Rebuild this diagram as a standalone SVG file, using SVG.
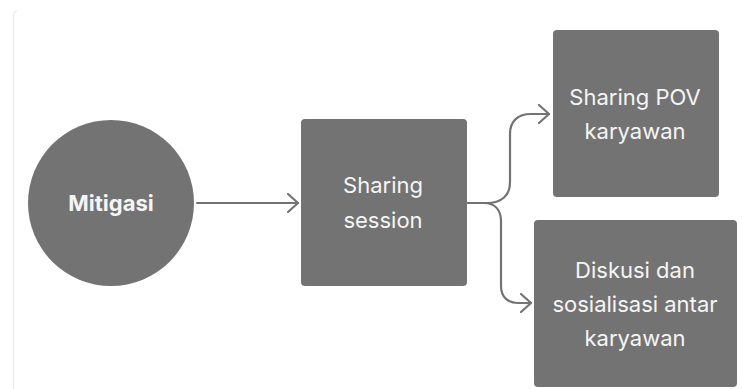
<svg xmlns="http://www.w3.org/2000/svg" width="742" height="389" viewBox="0 0 742 389">
  <defs>
    <style>
      .node { fill: #737373; }
      .label { font-family: Inter, "Noto Sans", "Liberation Sans", sans-serif; font-size: 22px; fill: #f5f5f5; text-anchor: middle; }
      .bold { font-weight: 700; }
      .wire { fill: none; stroke: #737373; stroke-width: 2.2; stroke-linecap: round; stroke-linejoin: round; }
      .frame { fill: none; stroke: #ededed; stroke-width: 1.5; }
    </style>
    <marker id="chev" viewBox="0 0 12 20" refX="11" refY="10" markerWidth="12" markerHeight="20" markerUnits="userSpaceOnUse" orient="auto">
      <path d="M1 1 L11 10 L1 19" fill="none" stroke="#737373" stroke-width="2.2" stroke-linecap="round" stroke-linejoin="round"/>
    </marker>
  </defs>

  <rect width="742" height="389" fill="#ffffff"/>
  <!-- card edge -->
  <path class="frame" d="M13.5 389 V16 Q13.5 11.5 17 11"/>

  <g id="connectors">
    <path class="wire" d="M197 203 H298" marker-end="url(#chev)"/>
    <path class="wire" d="M468 203 H487 C501 203 510 196 510 182 V134 C510 121 518 114 531 114 H549" marker-end="url(#chev)"/>
    <path class="wire" d="M468 203 H484 C495 203 501 210 501 221 V286 C501 297 508 303 518 303 H531" marker-end="url(#chev)"/>
  </g>

  <g id="mitigasi">
    <circle class="node" cx="111" cy="203" r="83"/>
    <text class="label bold" x="111" y="211">Mitigasi</text>
  </g>

  <g id="sharing-session">
    <rect class="node" x="301" y="119" width="166" height="167" rx="4"/>
    <text class="label" x="383" y="193">Sharing</text>
    <text class="label" x="383" y="228">session</text>
  </g>

  <g id="sharing-pov">
    <rect class="node" x="553" y="30" width="166" height="167" rx="4"/>
    <text class="label" x="635" y="105">Sharing POV</text>
    <text class="label" x="635" y="139">karyawan</text>
  </g>

  <g id="diskusi">
    <rect class="node" x="534" y="220" width="203" height="167" rx="4"/>
    <text class="label" x="635" y="278">Diskusi dan</text>
    <text class="label" x="635" y="312">sosialisasi antar</text>
    <text class="label" x="635" y="346">karyawan</text>
  </g>
</svg>
